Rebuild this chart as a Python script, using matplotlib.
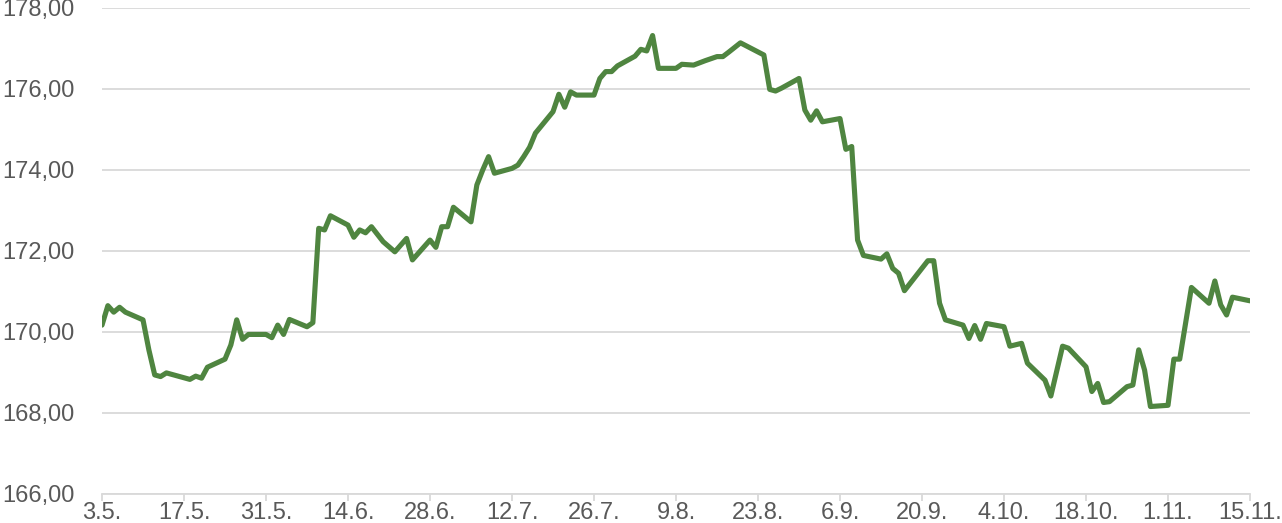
import matplotlib

matplotlib.use("Agg")
import matplotlib.pyplot as plt
from matplotlib.ticker import FuncFormatter

# day offsets from 3.5. and the price
days = [0, 1, 2, 3, 4, 7, 8, 9, 10, 11, 15, 16, 17, 18, 21, 22, 23, 24, 25, 28,
        29, 30, 31, 32, 35, 36, 37, 38, 39, 42, 43, 44, 45, 46, 48, 50, 52, 53, 56, 57,
        58, 59, 60, 63, 64, 65, 66, 67, 70, 71, 72, 73, 74, 77, 78, 79, 80, 81, 84, 85,
        86, 87, 88, 91, 92, 93, 94, 95, 98, 99, 101, 103, 105, 106, 107, 109, 113, 114, 115, 116,
        119, 120, 121, 122, 123, 126, 127, 128, 129, 130, 133, 134, 135, 136, 137, 141, 142, 143, 144, 147,
        148, 149, 150, 151, 154, 155, 157, 158, 161, 162, 164, 165, 168, 169, 170, 171, 172, 175, 176, 177,
        178, 179, 182, 183, 184, 186, 189, 190, 191, 192, 193, 196]
prices = [170.17, 170.65, 170.49, 170.61, 170.49, 170.30, 169.56, 168.94, 168.90, 168.99,
          168.83, 168.91, 168.86, 169.13, 169.33, 169.68, 170.30, 169.82, 169.94, 169.94,
          169.86, 170.17, 169.94, 170.31, 170.13, 170.23, 172.56, 172.52, 172.87, 172.64,
          172.34, 172.52, 172.45, 172.60, 172.23, 171.98, 172.31, 171.78, 172.27, 172.09,
          172.60, 172.60, 173.08, 172.72, 173.63, 174.00, 174.33, 173.92, 174.04, 174.12,
          174.33, 174.56, 174.91, 175.44, 175.87, 175.55, 175.93, 175.85, 175.85, 176.26,
          176.43, 176.43, 176.57, 176.81, 176.98, 176.94, 177.32, 176.51, 176.51, 176.61,
          176.59, 176.70, 176.80, 176.80, 176.91, 177.14, 176.84, 175.99, 175.95, 176.02,
          176.26, 175.48, 175.23, 175.46, 175.19, 175.27, 174.51, 174.58, 172.27, 171.89,
          171.80, 171.93, 171.57, 171.45, 171.02, 171.76, 171.76, 170.71, 170.30, 170.17,
          169.84, 170.16, 169.82, 170.21, 170.13, 169.65, 169.72, 169.23, 168.81, 168.42,
          169.65, 169.60, 169.14, 168.53, 168.73, 168.26, 168.28, 168.65, 168.69, 169.56,
          169.06, 168.16, 168.19, 169.33, 169.33, 171.10, 170.71, 171.26, 170.67, 170.42,
          170.86, 170.77]

tick_days = list(range(0, 197, 14))
tick_labels = ["3.5.", "17.5.", "31.5.", "14.6.", "28.6.", "12.7.", "26.7.", "9.8.",
               "23.8.", "6.9.", "20.9.", "4.10.", "18.10.", "1.11.", "15.11."]

plt.rcParams["font.family"] = ["Liberation Sans", "DejaVu Sans"]
TXT = "#595959"
GRID = "#d9d9d9"

fig = plt.figure(figsize=(12.82, 5.23), dpi=100)
ax = fig.add_axes([102 / 1282, 29 / 523, 1148 / 1282, 486 / 523])

ax.plot(days, prices, color="#4f8540", linewidth=3.7, solid_joinstyle="round",
        solid_capstyle="round", zorder=3)

ax.set_xlim(0, 196)
ax.set_ylim(166, 178)
ax.set_yticks(range(166, 179, 2))
ax.yaxis.set_major_formatter(FuncFormatter(lambda v, _: f"{v:.2f}".replace(".", ",")))
ax.set_xticks(tick_days)
ax.set_xticklabels(tick_labels)

ax.grid(axis="y", color=GRID, linewidth=1.3, zorder=0)
for s in ("left", "right", "top"):
    ax.spines[s].set_visible(False)
ax.spines["bottom"].set_color(GRID)
ax.spines["bottom"].set_linewidth(1.3)

ax.tick_params(axis="y", length=0, pad=20, labelsize=17, labelcolor=TXT)
ax.tick_params(axis="x", length=5, width=1.3, color=GRID, pad=1, labelsize=17,
               labelcolor=TXT)

fig.savefig("out.png", dpi=100)
